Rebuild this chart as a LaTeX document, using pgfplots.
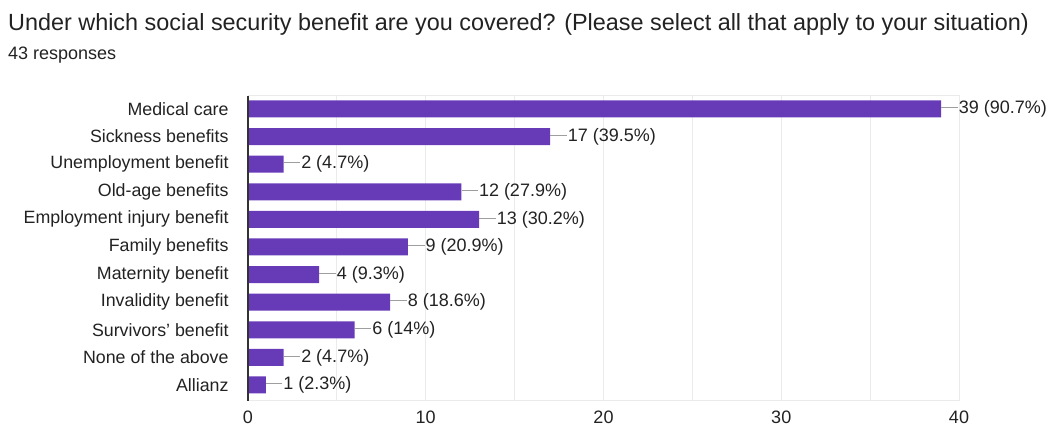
\documentclass[border=0pt]{standalone}
\usepackage{fontspec}
\setmainfont{Liberation Sans}
\usepackage{pgfplots}
\pgfplotsset{compat=1.18}
\definecolor{barc}{HTML}{673AB7}
\definecolor{txt}{HTML}{222222}
\definecolor{gridc}{HTML}{EBEBEB}
\definecolor{leadc}{HTML}{9E9E9E}
\definecolor{axisc}{HTML}{333333}
\begin{document}
\begin{tikzpicture}[x=1pt,y=1pt]
\useasboundingbox (0,0) rectangle (1052,427);
\node[anchor=west, text=txt, font=\fontsize{23.4}{26}\selectfont, inner sep=0pt] at (8,403) {Under which social security benefit are you covered? (Please select all that apply to your situation)};
\node[anchor=west, text=txt, font=\fontsize{18}{20}\selectfont, inner sep=0pt] at (8,372) {43 responses};
\begin{axis}[
  at={(248pt,26pt)}, anchor=south west, scale only axis,
  width=711pt, height=305pt,
  xbar, bar width=17pt,
  xmin=0, xmax=40, ymin=-0.47, ymax=10.58, y dir=reverse,
  ytick={0,...,10},
  yticklabels={Medical care, Sickness benefits, Unemployment benefit, Old-age benefits, Employment injury benefit, Family benefits, Maternity benefit, Invalidity benefit, Survivors’ benefit, None of the above, Allianz},
  xtick={0,10,20,30,40}, minor xtick={5,15,25,35},
  xmajorgrids, xminorgrids,
  major grid style={gridc, line width=1pt},
  minor grid style={gridc, line width=1pt},
  axis line style={gridc, line width=1pt},
  tick style={draw=none},
  /pgf/number format/assume math mode=true,
  ticklabel style={text=txt, font=\fontsize{18}{20}\selectfont},
  yticklabel style={anchor=east, inner sep=0pt, xshift=-15pt, font=\fontsize{17.8}{20}\selectfont},
  xticklabel style={anchor=north, inner sep=0pt, yshift=-10pt},
  point meta=explicit symbolic,
  nodes near coords={\textcolor{leadc}{\rule[0.3em]{16.5pt}{1pt}}\hspace{1pt}\pgfplotspointmeta},
  nodes near coords style={anchor=west, inner sep=0pt, text=txt, font=\fontsize{18}{20}\selectfont},
  clip=false,
]
\addplot[fill=barc, draw=none] coordinates {
  (39,0) [39 (90.7\%)]
  (17,1) [17 (39.5\%)]
  (2,2) [2 (4.7\%)]
  (12,3) [12 (27.9\%)]
  (13,4) [13 (30.2\%)]
  (9,5) [9 (20.9\%)]
  (4,6) [4 (9.3\%)]
  (8,7) [8 (18.6\%)]
  (6,8) [6 (14\%)]
  (2,9) [2 (4.7\%)]
  (1,10) [1 (2.3\%)]
};
\draw[axisc, line width=1.3pt] (rel axis cs:0,0) -- (rel axis cs:0,1);
\end{axis}
\end{tikzpicture}
\end{document}
